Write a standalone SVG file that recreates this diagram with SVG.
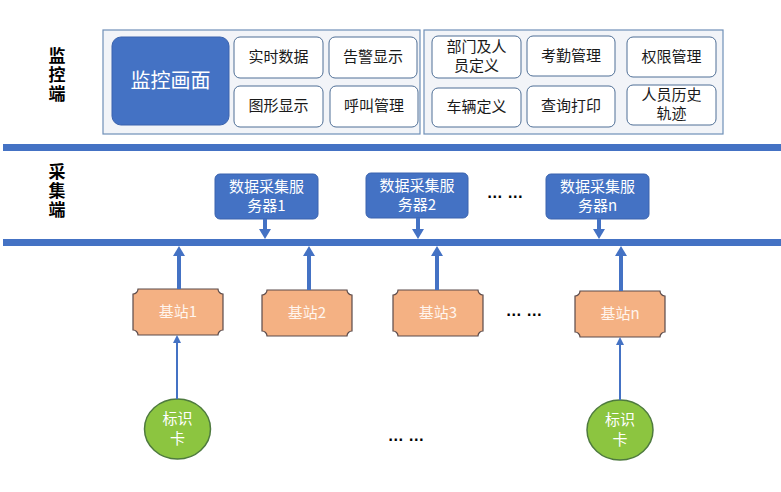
<svg xmlns="http://www.w3.org/2000/svg" width="781" height="492" viewBox="0 0 781 492">
<style>
.panel{fill:#F2F4F8;stroke:#6F8FB8;stroke-width:1.2}
.sb{fill:#FFFFFF;stroke:#4F6F96;stroke-width:1}
.st{font-family:"Noto Sans CJK SC","Noto Sans",sans-serif;font-size:15px;fill:#1a1a1a;text-anchor:middle}
.lbl{font-family:"Noto Sans CJK SC","Noto Sans",sans-serif;font-size:17px;font-weight:bold;fill:#000;writing-mode:tb;letter-spacing:2px}
.bar{fill:#4472C4}
.srv{fill:#4472C4;stroke:#3A63AE;stroke-width:1}
.wt{font-family:"Noto Sans CJK SC","Noto Sans",sans-serif;font-size:15px;fill:#FFFFFF;text-anchor:middle}
.bs{fill:#F4B183;stroke:#5A4A4A;stroke-width:1.2}
.bst{font-family:"Noto Sans CJK SC","Noto Sans",sans-serif;font-size:15px;fill:#FFF5EE;text-anchor:middle}
.tag{fill:#8CC540;stroke:#4E7A3E;stroke-width:1.5}
.dots{font-family:"Liberation Sans",sans-serif;font-size:16px;font-weight:bold;fill:#000;text-anchor:middle}
.thick{stroke:#4472C4;stroke-width:4;fill:none}
.thin{stroke:#4472C4;stroke-width:2;fill:none}
.ah{fill:#4472C4}
</style>
<defs>
<path id="plaque" d="M5,0 H85 A5,5 0 0 0 90,5 V41 A5,5 0 0 0 85,46 H5 A5,5 0 0 0 0,41 V5 A5,5 0 0 0 5,0 Z"/>
</defs>

<!-- side labels -->
<g id="label-monitor">
<text class="lbl" x="57" y="47">监控端</text>
</g>
<g id="label-collect">
<text class="lbl" x="57" y="163">采集端</text>
</g>

<!-- panels -->
<g id="panel-left">
<rect class="panel" x="103" y="30" width="317" height="104"/>
</g>
<g id="panel-right">
<rect class="panel" x="424" y="30" width="299" height="104"/>
</g>

<g id="monitor-main">
<rect x="112" y="37" width="117" height="88" rx="9" fill="#4472C4" stroke="#3A63AE"/>
<text class="wt" x="170.5" y="88" style="font-size:20px">监控画面</text>
</g>
<g id="n-realtime"><rect class="sb" x="234" y="37" width="89" height="41" rx="6"/><text class="st" x="278.5" y="62">实时数据</text></g>
<g id="n-alarm"><rect class="sb" x="329" y="37" width="88" height="41" rx="6"/><text class="st" x="373" y="62">告警显示</text></g>
<g id="n-graph"><rect class="sb" x="234" y="86" width="89" height="41" rx="6"/><text class="st" x="278.5" y="111">图形显示</text></g>
<g id="n-call"><rect class="sb" x="330" y="86" width="88" height="41" rx="6"/><text class="st" x="374" y="111">呼叫管理</text></g>

<g id="n-dept"><rect class="sb" x="432" y="36" width="89" height="42" rx="6"/><text class="st" x="476.5" y="52">部门及人<tspan x="476.5" dy="19">员定义</tspan></text></g>
<g id="n-attend"><rect class="sb" x="527" y="36" width="88" height="40" rx="6"/><text class="st" x="571" y="61">考勤管理</text></g>
<g id="n-perm"><rect class="sb" x="627" y="37" width="89" height="40" rx="6"/><text class="st" x="671.5" y="62">权限管理</text></g>
<g id="n-vehicle"><rect class="sb" x="432" y="88" width="89" height="39" rx="6"/><text class="st" x="476.5" y="112">车辆定义</text></g>
<g id="n-query"><rect class="sb" x="527" y="86" width="88" height="41" rx="6"/><text class="st" x="571" y="111">查询打印</text></g>
<g id="n-history"><rect class="sb" x="627" y="85" width="89" height="40" rx="6"/><text class="st" x="671.5" y="100">人员历史<tspan x="671.5" dy="19">轨迹</tspan></text></g>

<!-- bars -->
<g id="bus-top"><rect class="bar" x="3" y="144" width="778" height="7"/></g>
<g id="bus-mid"><rect class="bar" x="3" y="239" width="778" height="7"/></g>

<!-- servers -->
<g id="server1"><rect class="srv" x="215" y="174" width="103" height="45" rx="5"/><text class="wt" x="266.5" y="192">数据采集服<tspan x="266.5" dy="19">务器1</tspan></text></g>
<g id="server2"><rect class="srv" x="366" y="173" width="102" height="45" rx="5"/><text class="wt" x="417" y="191">数据采集服<tspan x="417" dy="19">务器2</tspan></text></g>
<g id="servern"><rect class="srv" x="546" y="174" width="103" height="45" rx="5"/><text class="wt" x="597.5" y="192">数据采集服<tspan x="597.5" dy="19">务器n</tspan></text></g>
<text class="dots" x="505" y="198">… …</text>

<!-- stations -->
<g id="station1"><use href="#plaque" class="bs" transform="translate(133,289)"/><text class="bst" x="178" y="317">基站1</text></g>
<g id="station2"><use href="#plaque" class="bs" transform="translate(262,290)"/><text class="bst" x="307" y="318">基站2</text></g>
<g id="station3"><use href="#plaque" class="bs" transform="translate(393,290)"/><text class="bst" x="438" y="318">基站3</text></g>
<g id="stationn"><use href="#plaque" class="bs" transform="translate(575,291)"/><text class="bst" x="620" y="319">基站n</text></g>
<text class="dots" x="524" y="316">… …</text>

<!-- tags -->
<g id="tag1"><ellipse class="tag" cx="177.5" cy="429" rx="33" ry="30"/><text class="wt" x="177.5" y="424">标识<tspan x="177.5" dy="20">卡</tspan></text></g>
<g id="tagn"><ellipse class="tag" cx="620" cy="430" rx="33" ry="30"/><text class="wt" x="620" y="425">标识<tspan x="620" dy="20">卡</tspan></text></g>
<text class="dots" x="406" y="441">… …</text>

<!-- connectors -->
<g id="connectors">
<line class="thick" x1="265" y1="219" x2="265" y2="230"/><polygon class="ah" points="259,229 271,229 265,239"/>
<line class="thick" x1="418" y1="218" x2="418" y2="230"/><polygon class="ah" points="412,229 424,229 418,239"/>
<line class="thick" x1="599" y1="219" x2="599" y2="230"/><polygon class="ah" points="593,229 605,229 599,239"/>

<line class="thick" x1="179" y1="289" x2="179" y2="255"/><polygon class="ah" points="173,256 185,256 179,246"/>
<line class="thick" x1="309" y1="290" x2="309" y2="255"/><polygon class="ah" points="303,256 315,256 309,246"/>
<line class="thick" x1="437" y1="290" x2="437" y2="255"/><polygon class="ah" points="431,256 443,256 437,246"/>
<line class="thick" x1="621" y1="291" x2="621" y2="255"/><polygon class="ah" points="615,256 627,256 621,246"/>

<line class="thin" x1="177" y1="399" x2="177" y2="342"/><polygon class="ah" points="173,343 181,343 177,335"/>
<line class="thin" x1="620" y1="400" x2="620" y2="344"/><polygon class="ah" points="616,345 624,345 620,337"/>
</g>
</svg>
